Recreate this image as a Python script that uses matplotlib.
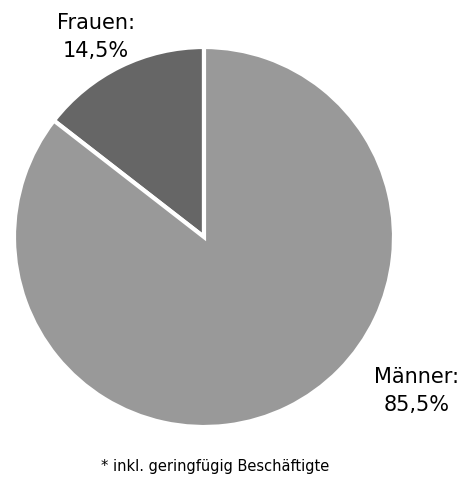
import matplotlib
matplotlib.use('Agg')
import matplotlib.pyplot as plt

labels = ['Frauen', 'Männer']
shares = [14.5, 85.5]
colors = ['#666666', '#999999']
footnote = '* inkl. geringfügig Beschäftigte'

W, H = 467, 481
fig = plt.figure(figsize=(W / 100, H / 100), dpi=100)
ax = fig.add_axes([14 / W, 53 / H, 380 / W, 380 / H])
ax.pie(shares, colors=colors, startangle=90, counterclock=True,
       wedgeprops={'edgecolor': 'white', 'linewidth': 3})
ax.set_xlim(-1.0, 1.0)
ax.set_ylim(-1.0, 1.0)
ax.set_aspect('equal')
ax.axis('off')

def label(s, v):
    return f"{s}:\n{str(v).replace('.', ',')}%"

fig.text(96 / W, 1 - 37 / H, label(labels[0], shares[0]), ha='center', va='center',
         fontsize=15, linespacing=1.45, fontweight='medium')
fig.text(417 / W, 1 - 391 / H, label(labels[1], shares[1]), ha='center', va='center',
         fontsize=15, linespacing=1.45, fontweight='medium')
fig.text(215 / W, 1 - 467 / H, footnote, ha='center', va='center', fontsize=10.5)

fig.savefig('out.png', dpi=100)
